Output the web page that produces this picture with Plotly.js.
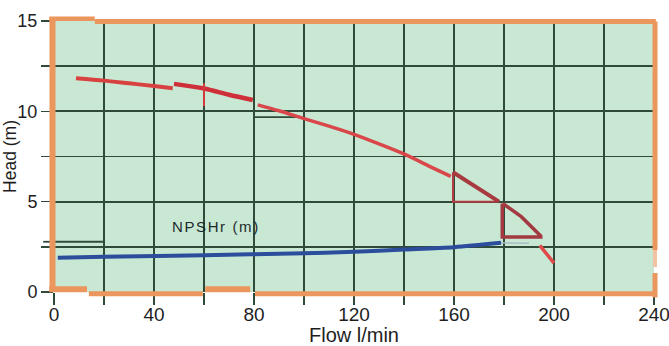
<!DOCTYPE html>
<html>
<head>
<meta charset="utf-8">
<script src="https://cdn.plot.ly/plotly-3.0.1.min.js"></script>
<style>html,body{margin:0;padding:0;background:#fff}#chart{width:669px;height:346px}</style>
</head>
<body>
<div id="chart"></div>
<script>
// ---- data ----
// Head curve (m) vs flow (l/min), drawn in pieces as in the scanned chart
var headAX = [8.8, 20, 30, 40, 47.5];
var headAY = [11.83, 11.7, 11.55, 11.4, 11.28];
var headBX = [48, 60, 70, 79.5];
var headBY = [11.52, 11.26, 10.92, 10.63];
var headCX = [81.5, 90, 100, 110, 120, 130, 140, 150, 158.7];
var headCY = [10.36, 10.03, 9.6, 9.18, 8.73, 8.2, 7.64, 6.97, 6.4];
var headTailX = [194.3, 200];
var headTailY = [2.58, 1.6];
// marker tick on the head curve
var headTickX = [60, 60];
var headTickY = [11.55, 10.28];
// hand-drawn triangles on the head curve
var tri1SideX = [159.6, 159.6, 177.4];
var tri1SideY = [6.63, 5.0, 5.0];
var tri1HypX = [159.6, 178];
var tri1HypY = [6.63, 5.0];
var tri2X = [179.3, 179.3, 194.7, 194.7, 186.9, 179.5];
var tri2Y = [4.9, 3.05, 3.05, 3.1, 4.17, 4.9];
// NPSHr curve (m)
var npshX = [1.5, 20, 60, 100, 120, 140, 160, 178.8];
var npshY = [1.9, 1.95, 2.04, 2.14, 2.23, 2.35, 2.48, 2.72];
var npshFaintX = [178.8, 190];
var npshFaintY = [2.72, 2.7];
// axes
var xTickVals = [0, 20, 40, 60, 80, 100, 120, 140, 160, 180, 200, 220, 240];
var xTickText = ['0', '', '40', '', '80', '', '120', '', '160', '', '200', '', '240'];
var yTickVals = [0, 2.5, 5, 7.5, 10, 12.5, 15];
var yTickText = ['0', '', '5', '', '10', '', '15'];
var xTitle = 'Flow l/min';
var yTitle = 'Head (m)';
var npshLabel = 'NPSHr (m)';
var npshLabelX = 64.8, npshLabelY = 3.6;

// ---- styling ----
var GRID = '#2f4a38';
var ORANGE = '#ea965c';
var FONT = 'Liberation Sans, Arial, Helvetica, sans-serif';

function line(x, y, color, width, shape) {
  return {x: x, y: y, type: 'scatter', mode: 'lines', hoverinfo: 'skip',
          line: {color: color, width: width, shape: shape || 'linear', smoothing: 0.8}};
}

var traces = [
  line(npshX, npshY, '#2b4d9c', 4, 'spline'),
  line(npshFaintX, npshFaintY, '#a7bcc6', 1.5),
  line(headAX, headAY, '#d8413f', 4, 'spline'),
  line(headBX, headBY, '#cf2f38', 4.5, 'spline'),
  line(headCX, headCY, '#d9474a', 3.5, 'spline'),
  line(headTickX, headTickY, '#d23a3e', 2),
  line(tri1SideX, tri1SideY, '#b23d44', 2),
  line(tri1HypX, tri1HypY, '#a83a40', 4),
  line(tri2X, tri2Y, '#a33a42', 3.5),
  line(headTailX, headTailY, '#e04a4a', 3.5)
];

function seg(x0, y0, x1, y1, w, c) {
  return {type: 'line', xref: 'paper', yref: 'paper', x0: x0, y0: y0, x1: x1, y1: y1,
          layer: 'above', line: {color: c || ORANGE, width: w}};
}
var shapes = [
  // orange frame (scan-style, with offsets and gaps)
  seg(-0.0025, 0.012, -0.0025, 1.008, 6),
  seg(-0.008, 1.008, 0.068, 1.008, 4.5),
  seg(0.068, 0.998, 1.003, 0.998, 5),
  seg(1.0017, 0.998, 1.0017, 0.155, 5),
  seg(1.0017, 0.155, 1.0017, 0.092, 4, '#f2c3a0'),
  seg(1.0017, 0.07, 1.0017, -0.02, 5),
  seg(-0.008, 0.01, 0.055, 0.01, 6),
  seg(0.058, -0.006, 0.248, -0.006, 5),
  seg(0.252, 0.01, 0.327, 0.01, 6),
  seg(0.335, -0.006, 1.004, -0.006, 5),
  // shifted grid pieces from the scan
  {type: 'line', xref: 'x', yref: 'y', x0: 0, x1: 20, y0: 2.78, y1: 2.78, layer: 'below', line: {color: GRID, width: 1.8}},
  {type: 'line', xref: 'paper', yref: 'y', x0: -0.018, x1: 0, y0: 2.78, y1: 2.78, layer: 'below', line: {color: GRID, width: 1.8}},
  {type: 'line', xref: 'x', yref: 'y', x0: 80, x1: 97, y0: 9.68, y1: 9.68, layer: 'below', line: {color: GRID, width: 1.8}}
];

var layout = {
  width: 669, height: 346,
  margin: {l: 54, r: 15, t: 21, b: 54, pad: 0},
  paper_bgcolor: '#ffffff',
  plot_bgcolor: '#c8e8d4',
  showlegend: false,
  hovermode: false,
  font: {family: FONT, color: '#1e1e1e'},
  xaxis: {
    range: [0, 240], tickmode: 'array', tickvals: xTickVals, ticktext: xTickText,
    ticks: 'outside', ticklen: 12, tickwidth: 1.6, tickcolor: GRID,
    ticklabelstandoff: -7, ticklabeloverflow: 'allow',
    showgrid: true, gridcolor: GRID, gridwidth: 1.8, zeroline: false, showline: false,
    tickfont: {family: FONT, size: 19, color: '#1e1e1e'},
    title: {text: xTitle, font: {family: FONT, size: 20, color: '#1e1e1e'}, standoff: 2},
    fixedrange: true
  },
  yaxis: {
    range: [0, 15], tickmode: 'array', tickvals: yTickVals, ticktext: yTickText,
    ticks: 'outside', ticklen: 12, tickwidth: 1.6, tickcolor: GRID,
    ticklabeloverflow: 'allow',
    showgrid: true, gridcolor: GRID, gridwidth: 1.8, zeroline: false, showline: false,
    tickfont: {family: FONT, size: 18, color: '#1e1e1e'},
    title: {text: yTitle, font: {family: FONT, size: 17.5, color: '#1e1e1e'}, standoff: 1},
    fixedrange: true
  },
  shapes: shapes,
  annotations: [{
    x: npshLabelX, y: npshLabelY, xref: 'x', yref: 'y', showarrow: false,
    text: '<span style="letter-spacing:1.6px">' + npshLabel + '</span>',
    font: {family: FONT, size: 15, color: '#1d2b2b'}
  }]
};

Plotly.newPlot('chart', traces, layout, {staticPlot: true, displayModeBar: false});
</script>
</body>
</html>
